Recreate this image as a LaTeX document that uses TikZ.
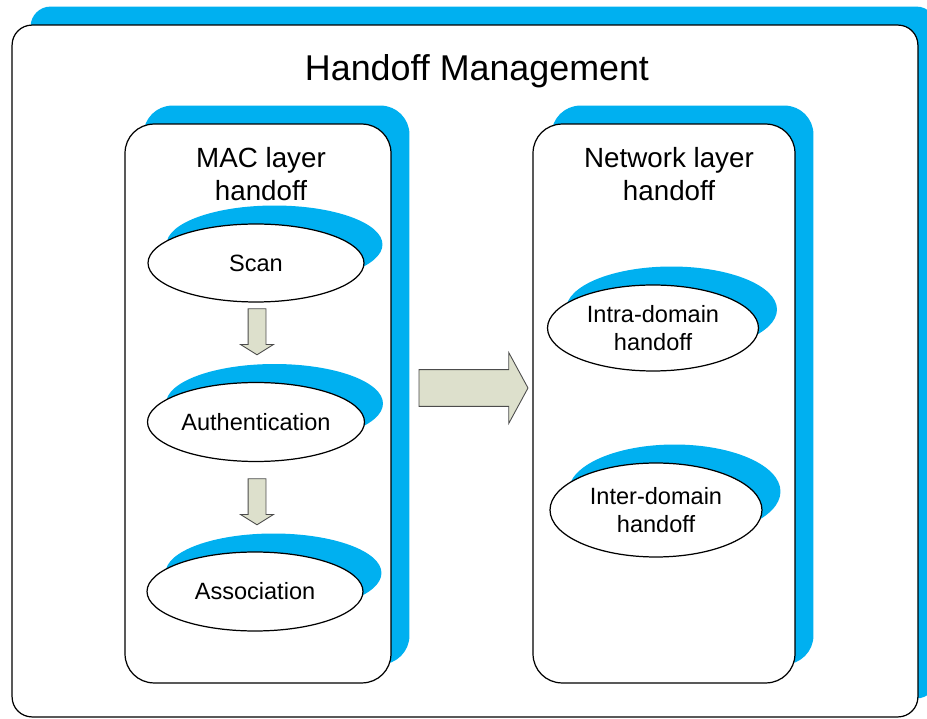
\documentclass[tikz,border=0pt]{standalone}
\usepackage{fontspec}
\setmainfont{Liberation Sans}
\usepackage{tikz}
\usetikzlibrary{shapes.geometric}
\usetikzlibrary{shapes.arrows}
\usetikzlibrary{shadows}
\usetikzlibrary{positioning}
\definecolor{shadowblue}{RGB}{0,176,240}
\definecolor{arrowfill}{RGB}{221,224,204}

\begin{document}
\begin{tikzpicture}[x=0.02cm, y=-0.02cm,
  bluecopy/.style={general shadow={shadow xshift=0.37cm, shadow yshift=0.37cm, fill=shadowblue}},
  layerbox/.style={draw, line width=0.7pt, fill=white, rounded corners=0.58cm, bluecopy},
  stepoval/.style={ellipse, draw, line width=0.7pt, fill=white, inner sep=0pt, align=center,
    font=\fontsize{13.4}{15.9}\selectfont, bluecopy},
  boxtitle/.style={align=center, font=\fontsize{15.8}{18.7}\selectfont},
  downarrow/.style={single arrow, draw=black!70, fill=arrowfill, line width=0.5pt,
    inner sep=0.17cm, single arrow head extend=0.15cm, single arrow tip angle=116,
    minimum height=0.92cm, shape border rotate=270},
  bigarrow/.style={single arrow, draw=black!70, fill=arrowfill, line width=0.5pt,
    inner sep=0.36cm, single arrow head extend=0.34cm, single arrow tip angle=123,
    minimum height=2.18cm}]
\useasboundingbox (0,0) rectangle (927,719);

\node[draw, line width=0.7pt, fill=white, rounded corners=0.4cm, bluecopy,
  minimum width=18.12cm, minimum height=13.84cm] (outer) at (465,371) {};
\node[font=\fontsize{20.4}{24}\selectfont] (title) at (477,71) {Handoff Management};

\node[layerbox, minimum width=5.32cm, minimum height=11.18cm] (mac) at (258,403.5) {};
\node[layerbox, minimum width=5.24cm, minimum height=11.18cm] (net) at (664,403.5) {};
\node[boxtitle] (macTitle) at (261,174) {MAC layer\\handoff};
\node[boxtitle] (netTitle) at (669,174) {Network layer\\handoff};

\node[stepoval, minimum width=4.32cm, minimum height=1.56cm] (scan) at (256,263) {Scan};
\node[stepoval, minimum width=4.34cm, minimum height=1.58cm] (auth) at (256,422) {Authentication};
\node[stepoval, minimum width=4.32cm, minimum height=1.58cm] (assoc) at (255,591.5) {Association};
\node[stepoval, minimum width=4.22cm, minimum height=1.72cm] (intra) at (653,328) {Intra-domain\\handoff};
\node[stepoval, minimum width=4.24cm, minimum height=1.88cm] (inter) at (656,510) {Inter-domain\\handoff};

\node[downarrow] (scanAuth) at (257,329) {};
\node[downarrow] (authAssoc) at (257,499) {};
\node[bigarrow] (macNet) at (468.5,388) {};
\end{tikzpicture}
\end{document}
